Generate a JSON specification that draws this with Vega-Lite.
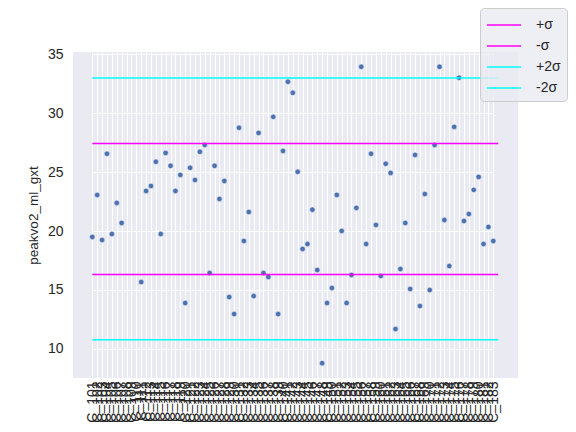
{
  "$schema": "https://vega.github.io/schema/vega-lite/v6.json",
  "width": 445,
  "height": 326,
  "autosize": "none",
  "padding": {"left": 73, "top": 52, "right": 58, "bottom": 54},
  "background": "white",
  "config": {
    "view": {"fill": "#eaeaf2", "stroke": null},
    "font": "Liberation Sans",
    "axis": {
      "domain": false,
      "ticks": false,
      "gridColor": "white",
      "gridWidth": 1,
      "gridOpacity": 1,
      "labelFont": "Liberation Sans",
      "labelColor": "#262626",
      "labelFontSize": 14,
      "titleFont": "Liberation Sans",
      "titleColor": "#262626",
      "titleFontWeight": "normal"
    },
    "legend": {
      "orient": "none",
      "legendX": 407,
      "legendY": -44,
      "title": null,
      "labelFont": "Liberation Sans",
      "labelFontSize": 14,
      "labelColor": "#262626",
      "labelOffset": 28,
      "symbolType": "M-1,0H2.4",
      "symbolSize": 400,
      "symbolStrokeWidth": 1.5,
      "padding": 6,
      "rowPadding": 3,
      "strokeColor": "#cccccc",
      "fillColor": "rgba(234,234,242,0.8)",
      "cornerRadius": 4
    }
  },
  "datasets": {
    "pts": [
      {"id": "C_101", "peakvo2_ml_gxt": 19.50},
      {"id": "C_102", "peakvo2_ml_gxt": 23.07},
      {"id": "C_103", "peakvo2_ml_gxt": 19.24},
      {"id": "C_104", "peakvo2_ml_gxt": 26.56},
      {"id": "C_105", "peakvo2_ml_gxt": 19.75},
      {"id": "C_106", "peakvo2_ml_gxt": 22.39},
      {"id": "C_107", "peakvo2_ml_gxt": 20.69},
      {"id": "C_108", "peakvo2_ml_gxt": null},
      {"id": "C_109", "peakvo2_ml_gxt": null},
      {"id": "C_110", "peakvo2_ml_gxt": null},
      {"id": "C_111", "peakvo2_ml_gxt": 15.67},
      {"id": "C_112", "peakvo2_ml_gxt": 23.41},
      {"id": "C_113", "peakvo2_ml_gxt": 23.83},
      {"id": "C_114", "peakvo2_ml_gxt": 25.88},
      {"id": "C_115", "peakvo2_ml_gxt": 19.75},
      {"id": "C_116", "peakvo2_ml_gxt": 26.64},
      {"id": "C_117", "peakvo2_ml_gxt": 25.54},
      {"id": "C_118", "peakvo2_ml_gxt": 23.41},
      {"id": "C_119", "peakvo2_ml_gxt": 24.77},
      {"id": "C_120", "peakvo2_ml_gxt": 13.89},
      {"id": "C_121", "peakvo2_ml_gxt": 25.37},
      {"id": "C_122", "peakvo2_ml_gxt": 24.34},
      {"id": "C_123", "peakvo2_ml_gxt": 26.73},
      {"id": "C_124", "peakvo2_ml_gxt": 27.32},
      {"id": "C_125", "peakvo2_ml_gxt": 16.44},
      {"id": "C_126", "peakvo2_ml_gxt": 25.54},
      {"id": "C_127", "peakvo2_ml_gxt": 22.73},
      {"id": "C_128", "peakvo2_ml_gxt": 24.26},
      {"id": "C_129", "peakvo2_ml_gxt": 14.40},
      {"id": "C_130", "peakvo2_ml_gxt": 12.95},
      {"id": "C_131", "peakvo2_ml_gxt": 28.77},
      {"id": "C_132", "peakvo2_ml_gxt": 19.16},
      {"id": "C_133", "peakvo2_ml_gxt": 21.62},
      {"id": "C_134", "peakvo2_ml_gxt": 14.48},
      {"id": "C_135", "peakvo2_ml_gxt": 28.34},
      {"id": "C_136", "peakvo2_ml_gxt": 16.44},
      {"id": "C_137", "peakvo2_ml_gxt": 16.10},
      {"id": "C_138", "peakvo2_ml_gxt": 29.70},
      {"id": "C_139", "peakvo2_ml_gxt": 12.95},
      {"id": "C_140", "peakvo2_ml_gxt": 26.81},
      {"id": "C_141", "peakvo2_ml_gxt": 32.68},
      {"id": "C_142", "peakvo2_ml_gxt": 31.74},
      {"id": "C_143", "peakvo2_ml_gxt": 25.03},
      {"id": "C_144", "peakvo2_ml_gxt": 18.48},
      {"id": "C_145", "peakvo2_ml_gxt": 18.90},
      {"id": "C_146", "peakvo2_ml_gxt": 21.82},
      {"id": "C_147", "peakvo2_ml_gxt": 16.69},
      {"id": "C_148", "peakvo2_ml_gxt": 8.78},
      {"id": "C_149", "peakvo2_ml_gxt": 13.89},
      {"id": "C_150", "peakvo2_ml_gxt": 15.16},
      {"id": "C_151", "peakvo2_ml_gxt": 23.07},
      {"id": "C_152", "peakvo2_ml_gxt": 20.01},
      {"id": "C_153", "peakvo2_ml_gxt": 13.89},
      {"id": "C_154", "peakvo2_ml_gxt": 16.27},
      {"id": "C_155", "peakvo2_ml_gxt": 21.97},
      {"id": "C_156", "peakvo2_ml_gxt": 33.95},
      {"id": "C_157", "peakvo2_ml_gxt": 18.90},
      {"id": "C_158", "peakvo2_ml_gxt": 26.56},
      {"id": "C_159", "peakvo2_ml_gxt": 20.52},
      {"id": "C_160", "peakvo2_ml_gxt": 16.18},
      {"id": "C_161", "peakvo2_ml_gxt": 25.71},
      {"id": "C_162", "peakvo2_ml_gxt": 24.94},
      {"id": "C_163", "peakvo2_ml_gxt": 11.68},
      {"id": "C_164", "peakvo2_ml_gxt": 16.78},
      {"id": "C_165", "peakvo2_ml_gxt": 20.69},
      {"id": "C_166", "peakvo2_ml_gxt": 15.08},
      {"id": "C_167", "peakvo2_ml_gxt": 26.47},
      {"id": "C_168", "peakvo2_ml_gxt": 13.63},
      {"id": "C_169", "peakvo2_ml_gxt": 23.15},
      {"id": "C_170", "peakvo2_ml_gxt": 14.99},
      {"id": "C_171", "peakvo2_ml_gxt": 27.32},
      {"id": "C_172", "peakvo2_ml_gxt": 33.95},
      {"id": "C_173", "peakvo2_ml_gxt": 20.94},
      {"id": "C_174", "peakvo2_ml_gxt": 17.03},
      {"id": "C_175", "peakvo2_ml_gxt": 28.85},
      {"id": "C_176", "peakvo2_ml_gxt": 33.02},
      {"id": "C_177", "peakvo2_ml_gxt": 20.86},
      {"id": "C_178", "peakvo2_ml_gxt": 21.45},
      {"id": "C_179", "peakvo2_ml_gxt": 23.50},
      {"id": "C_180", "peakvo2_ml_gxt": 24.60},
      {"id": "C_181", "peakvo2_ml_gxt": 18.90},
      {"id": "C_182", "peakvo2_ml_gxt": 20.35},
      {"id": "C_183", "peakvo2_ml_gxt": 19.16}
    ],
    "sig": [
      {"series": "+σ", "value": 27.44, "id": "C_101", "id_end": "C_183"},
      {"series": "-σ", "value": 16.32, "id": "C_101", "id_end": "C_183"},
      {"series": "+2σ", "value": 33.00, "id": "C_101", "id_end": "C_183"},
      {"series": "-2σ", "value": 10.76, "id": "C_101", "id_end": "C_183"}
    ]
  },
  "layer": [
    {
      "data": {"name": "pts"},
      "mark": {"type": "point", "opacity": 0},
      "encoding": {
        "x": {
          "field": "id",
          "type": "ordinal",
          "scale": {"type": "point", "padding": 0, "range": [19.3, 420.3]},
          "axis": {"title": null, "labelAngle": -90, "grid": true, "labelPadding": 3, "labelOverlap": false, "labelBound": false}
        }
      }
    },
    {
      "data": {"name": "pts"},
      "mark": {"type": "circle", "size": 30, "fill": "#4c72b0", "opacity": 1, "stroke": "white", "strokeWidth": 0.5},
      "encoding": {
        "x": {"field": "id", "type": "ordinal"},
        "y": {
          "field": "peakvo2_ml_gxt",
          "type": "quantitative",
          "scale": {"domain": [7.52, 35.21], "nice": false, "zero": false},
          "axis": {"title": "peakvo2_ml_gxt", "values": [10, 15, 20, 25, 30, 35], "grid": true, "labelPadding": 10, "titleX": -33, "titleFontSize": 13.5}
        }
      }
    },
    {
      "data": {"name": "sig"},
      "mark": {"type": "rule", "strokeWidth": 1.5, "x2Offset": 4.9},
      "encoding": {
        "x": {"field": "id", "type": "ordinal"},
        "x2": {"field": "id_end"},
        "y": {"field": "value", "type": "quantitative"},
        "color": {
          "field": "series",
          "type": "nominal",
          "scale": {"domain": ["+σ", "-σ", "+2σ", "-2σ"], "range": ["#ff00ff", "#ff00ff", "#00ffff", "#00ffff"]},
          "legend": {"title": null}
        }
      }
    }
  ]
}
